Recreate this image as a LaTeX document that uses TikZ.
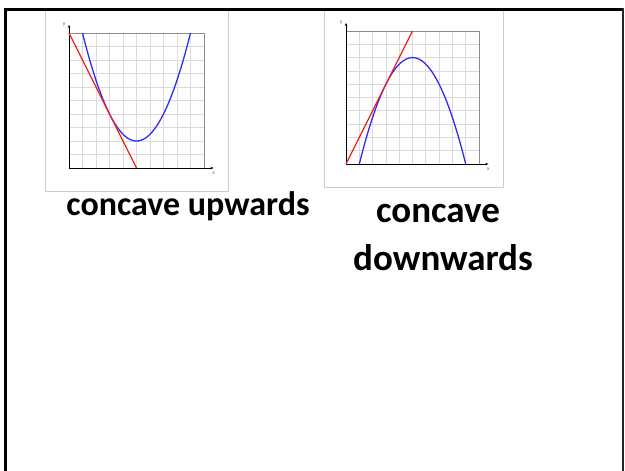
\documentclass[tikz,border=0pt]{standalone}
\usepackage{fontspec}
\setmainfont{Carlito}
\usetikzlibrary{arrows.meta}
\definecolor{plotblue}{RGB}{45,45,250}
\definecolor{plotred}{RGB}{245,30,30}
\begin{document}
\begin{tikzpicture}[x=1pt,y=-1pt,
  gridline/.style={draw=black!14,line width=0.8pt},
  gridframe/.style={draw=black!45,line width=0.9pt},
  axisline/.style={draw=black,line width=0.9pt,-{Stealth[length=3pt,width=2.6pt]}},
  axislabel/.style={font=\fontsize{5.5}{5.5}\selectfont,text=black!60,inner sep=0pt},
  curveblue/.style={draw=plotblue,line width=1.3pt},
  curvered/.style={draw=plotred,line width=1.3pt},
  imgbox/.style={draw=black!20,line width=0.7pt},
  caption/.style={font=\bfseries,inner sep=0pt,anchor=base}]
\useasboundingbox (0,0) rectangle (625,471);
% image boxes
\draw[imgbox] (45,10) rectangle (228,191);
\draw[imgbox] (324,10) rectangle (503,187);
% left graph
\begin{scope}[xshift=69pt,yshift=-168pt,x=13.5pt,y=13.5pt]
  \foreach \i in {1,...,9} {\draw[gridline] (\i,0) -- (\i,10); \draw[gridline] (0,\i) -- (10,\i);}
  \draw[gridframe] (0,0) rectangle (10,10);
  \coordinate (lo) at (0,0);
  \coordinate (lxe) at (10.7,0);
  \coordinate (lye) at (0,10.6);
  \draw[axisline] (lo) -- (lxe);
  \draw[axisline] (lo) -- (lye);
  \node[axislabel,anchor=north] (lx) at (10.7,-0.25) {x};
  \node[axislabel,anchor=east] (ly) at (-0.25,10.6) {y};
  \draw[curveblue,domain=1:9,samples=80,smooth] plot (\x,{2+0.5*(\x-5)^2});
  \draw[curvered] (0,10) -- (5,0);
\end{scope}
% right graph
\begin{scope}[xshift=346pt,yshift=-164pt,x=13.3pt,y=13.3pt]
  \foreach \i in {1,...,9} {\draw[gridline] (\i,0) -- (\i,10); \draw[gridline] (0,\i) -- (10,\i);}
  \draw[gridframe] (0,0) rectangle (10,10);
  \coordinate (ro) at (0,0);
  \coordinate (rxe) at (10.7,0);
  \coordinate (rye) at (0,10.6);
  \draw[axisline] (ro) -- (rxe);
  \draw[axisline] (ro) -- (rye);
  \node[axislabel,anchor=north] (rx) at (10.7,-0.25) {x};
  \node[axislabel,anchor=east] (ry) at (-0.25,10.6) {y};
  \draw[curveblue,domain=1:9,samples=80,smooth] plot (\x,{8-0.5*(\x-5)^2});
  \draw[curvered] (0,0) -- (5,10);
\end{scope}
% frame
\draw[line width=3pt,black] (5.5,471) -- (5.5,9.5) -- (623,9.5);
\draw[line width=2pt,black!85] (623,8) -- (623,471);
% captions
\node[caption,font=\bfseries\fontsize{34}{40}\selectfont] (cu) at (188,215) {concave upwards};
\node[caption,font=\bfseries\fontsize{37}{48}\selectfont] (cd1) at (438,222) {concave};
\node[caption,font=\bfseries\fontsize{37}{48}\selectfont] (cd2) at (443,270) {downwards};
\end{tikzpicture}
\end{document}
